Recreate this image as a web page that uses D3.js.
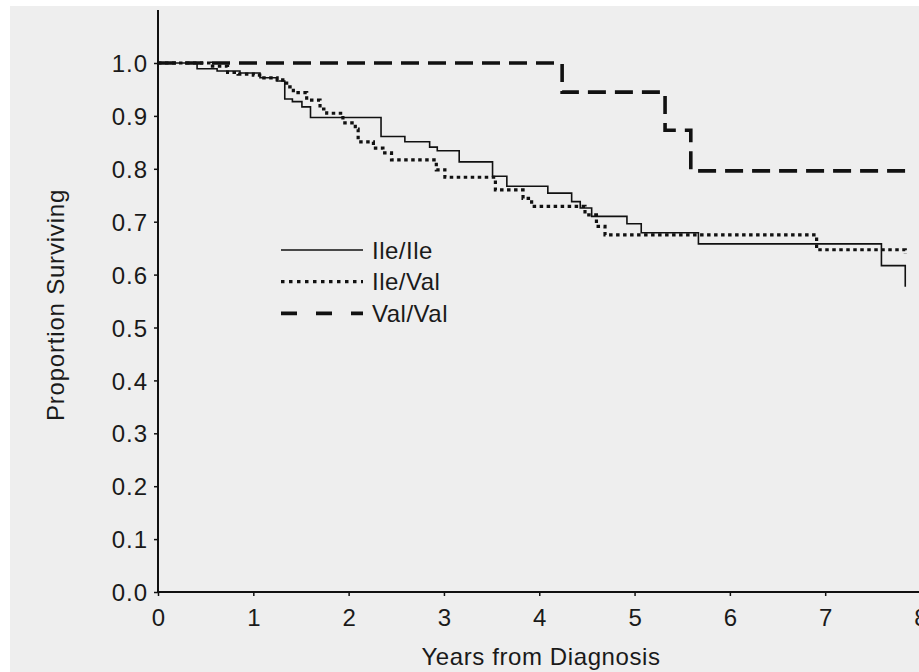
<!DOCTYPE html>
<html>
<head>
<meta charset="utf-8">
<script src="https://cdn.jsdelivr.net/npm/d3@7"></script>
<style>
  html, body { margin: 0; padding: 0; background: #ffffff; }
  svg { display: block; }
  text { font-family: "Liberation Sans", Arial, Helvetica, sans-serif; fill: #1a1a1a; }
</style>
</head>
<body>
<svg id="chart" width="919" height="672"></svg>
<script>
// Kaplan-Meier survival estimates by genotype (years from diagnosis, proportion surviving)
const ileIleTimes = [0, 0.41, 0.62, 0.86, 1.07, 1.25, 1.33, 1.41, 1.51, 1.60, 2.34, 2.59, 2.85, 2.93, 3.16, 3.51, 3.66, 4.09, 4.34, 4.43, 4.55, 4.92, 5.07, 5.67, 7.59, 7.84];
const ileIleSurv  = [1.0, 0.989, 0.985, 0.981, 0.972, 0.966, 0.932, 0.927, 0.917, 0.897, 0.861, 0.851, 0.841, 0.834, 0.813, 0.786, 0.767, 0.754, 0.738, 0.726, 0.710, 0.696, 0.679, 0.658, 0.617, 0.577];

const ileValTimes = [0, 0.55, 0.73, 0.84, 1.00, 1.09, 1.25, 1.31, 1.35, 1.42, 1.56, 1.70, 1.77, 1.94, 2.07, 2.10, 2.26, 2.36, 2.45, 2.92, 3.01, 3.54, 3.83, 3.92, 4.48, 4.60, 4.69, 6.91, 7.84];
const ileValSurv  = [1.0, 0.994, 0.982, 0.979, 0.977, 0.972, 0.968, 0.962, 0.955, 0.944, 0.930, 0.913, 0.905, 0.887, 0.875, 0.851, 0.839, 0.830, 0.817, 0.798, 0.784, 0.760, 0.744, 0.729, 0.713, 0.691, 0.675, 0.647, 0.639];

const valValTimes = [0, 4.24, 5.32, 5.59, 7.84];
const valValSurv  = [1.0, 0.945, 0.873, 0.796, 0.796];

const seriesNames = ["Ile/Ile", "Ile/Val", "Val/Val"];
const xTickValues = [0, 1, 2, 3, 4, 5, 6, 7, 8];
const yTickValues = [0, 0.1, 0.2, 0.3, 0.4, 0.5, 0.6, 0.7, 0.8, 0.9, 1.0];

const svg = d3.select("#chart");
const W = 919, H = 672;
const FONT = 24;

// panel background
svg.append("rect").attr("x", 10).attr("y", 6).attr("width", W - 10).attr("height", H - 6).attr("fill", "#eeeeee");

const x = d3.scaleLinear().domain([0, 8]).range([158, 920.5]);
const y = d3.scaleLinear().domain([0, 1]).range([592, 63]);

// axes
const xAxis = d3.axisBottom(x).tickValues(xTickValues).tickFormat(d3.format("d")).tickSize(4).tickSizeOuter(0);
const yAxis = d3.axisLeft(y).tickValues(yTickValues).tickFormat(d3.format(".1f")).tickSize(4).tickSizeOuter(0);

const gx = svg.append("g").attr("transform", "translate(0,592)").call(xAxis);
gx.select(".domain").attr("d", `M${x(0)},0H${W}`).attr("stroke", "#111").attr("stroke-width", 2);
gx.selectAll(".tick line").attr("stroke", "#111").attr("stroke-width", 1.5);
gx.selectAll(".tick text").attr("font-size", FONT).attr("dy", 0).attr("y", 34).attr("fill", "#1a1a1a")
  .style("font-family", "'Liberation Sans', Arial, sans-serif");

const gy = svg.append("g").attr("transform", "translate(158,0)").call(yAxis);
gy.select(".domain").attr("d", `M0,10V592`).attr("stroke", "#111").attr("stroke-width", 2);
gy.selectAll(".tick line").attr("stroke", "#111").attr("stroke-width", 1.5);
gy.selectAll(".tick text").attr("font-size", FONT).attr("x", -10).attr("dy", "0.36em").attr("fill", "#1a1a1a")
  .attr("letter-spacing", 1)
  .style("font-family", "'Liberation Sans', Arial, sans-serif");

// axis titles
svg.append("text").attr("x", 541).attr("y", 665).attr("text-anchor", "middle")
  .attr("font-size", FONT).attr("letter-spacing", 0.6).text("Years from Diagnosis");
svg.append("text").attr("transform", "translate(64,305) rotate(-90)").attr("text-anchor", "middle")
  .attr("font-size", FONT).attr("letter-spacing", 0.8).text("Proportion Surviving");

// survival curves
const step = d3.line().x(d => x(d[0])).y(d => y(d[1])).curve(d3.curveStepAfter);
const styles = [
  { width: 1.6, dash: null },
  { width: 3.2, dash: "3.5,3.5" },
  { width: 3.6, dash: "18,9" }
];
const seriesData = [
  d3.zip(ileIleTimes, ileIleSurv),
  d3.zip(ileValTimes, ileValSurv),
  d3.zip(valValTimes, valValSurv)
];

seriesData.forEach((pts, i) => {
  svg.append("path")
    .attr("d", step(pts))
    .attr("fill", "none")
    .attr("stroke", "#111")
    .attr("stroke-width", styles[i].width)
    .attr("stroke-dasharray", styles[i].dash);
});

// legend
const legendStyles = [
  { width: 1.6, dash: null },
  { width: 3.2, dash: "3.5,4.5" },
  { width: 3.6, dash: "16,19" }
];
const legend = svg.append("g");
seriesNames.forEach((name, i) => {
  const ly = 250 + i * 31.7;
  legend.append("line").attr("x1", 281).attr("x2", 363).attr("y1", ly).attr("y2", ly)
    .attr("stroke", "#111").attr("stroke-width", legendStyles[i].width)
    .attr("stroke-dasharray", legendStyles[i].dash);
  legend.append("text").attr("x", 372).attr("y", ly + 8.5).attr("font-size", FONT)
    .attr("letter-spacing", 0.5).text(name);
});
</script>
</body>
</html>
